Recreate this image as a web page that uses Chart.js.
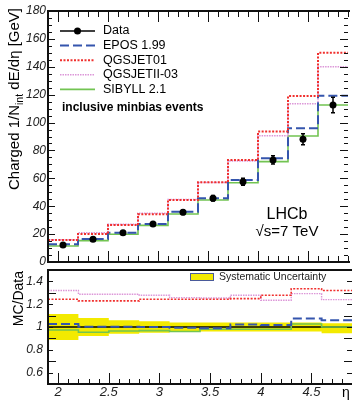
<!DOCTYPE html>
<html>
<head>
<meta charset="utf-8">
<script src="https://cdn.jsdelivr.net/npm/chart.js@4.4.0/dist/chart.umd.min.js"></script>
<style>
  body { margin: 0; background: #fff; }
  #wrap { position: relative; width: 352px; height: 402px; overflow: hidden; }
  #top { position: absolute; left: 0; top: 0; }
  #ratio { position: absolute; left: 0; top: 266px; }
</style>
</head>
<body>
<div id="wrap">
  <canvas id="top" width="352" height="272"></canvas>
  <canvas id="ratio" width="352" height="136"></canvas>
</div>
<script>
// eta bins
const binEdges = [1.9, 2.2, 2.5, 2.8, 3.1, 3.4, 3.7, 4.0, 4.3, 4.6, 4.9];
const binCentres = [2.05, 2.35, 2.65, 2.95, 3.25, 3.55, 3.85, 4.15, 4.45, 4.75];

// energy flow [GeV]
const dataVals = [12.2, 16.3, 21.0, 27.3, 35.6, 45.7, 57.6, 73.2, 88.0, 112.6];
const dataErr = [0.8, 0.9, 1.0, 1.3, 1.6, 2.0, 2.5, 3.0, 4.0, 5.5];
const eposVals = [12.7, 16.5, 21.0, 27.3, 36.1, 45.7, 58.8, 74.4, 95.9, 119.3];
const qgs01Vals = [15.8, 20.1, 26.5, 34.2, 44.5, 57.2, 73.2, 93.5, 119.0, 150.0];
const qgs2Vals = [16.0, 21.0, 27.0, 35.0, 44.8, 57.0, 72.5, 90.5, 113.5, 140.0];
const sibVals = [11.5, 15.3, 19.9, 26.3, 34.4, 44.5, 56.8, 72.0, 90.4, 112.6];

// MC / data
const eposRatio = [1.026, 1.003, 1.003, 1.0, 0.993, 0.99, 1.023, 1.017, 1.075, 1.06];
const qgs01Ratio = [1.243, 1.229, 1.229, 1.243, 1.243, 1.243, 1.249, 1.278, 1.336, 1.32];
const qgs2Ratio = [1.32, 1.287, 1.287, 1.278, 1.258, 1.255, 1.278, 1.235, 1.293, 1.24];
const sibRatio = [0.974, 0.954, 0.965, 0.968, 0.96, 0.98, 0.98, 0.98, 1.026, 1.0];
const sysUp = [1.113, 1.08, 1.06, 1.05, 1.04, 1.04, 1.04, 1.04, 1.04, 1.032];
const sysLo = [0.887, 0.92, 0.94, 0.95, 0.96, 0.96, 0.96, 0.96, 0.96, 0.945];
const refLine = 1;

// axis ticks
const xTicks = [2, 2.5, 3, 3.5, 4, 4.5];
const yTicksTop = [0, 20, 40, 60, 80, 100, 120, 140, 160, 180];
const yTicksRatio = [0.6, 0.8, 1, 1.2, 1.4];

const FONT = "'Liberation Sans', Arial, Helvetica, sans-serif";
const BLUE = "#3555ad";
const RED = "#f0302e";
const PINK = "#dc96d8";
const GREEN = "#72c452";
const YELLOW = "#f3ea00";

// histogram drawn as a stepped line through the bin edges
function steps(vals) {
  return binEdges.map((e, i) => ({ x: e, y: vals[Math.min(i, vals.length - 1)] }));
}

function range(from, to, step) {
  const out = [];
  for (let v = from; v <= to + 1e-9; v += step) out.push(Math.round(v * 1000) / 1000);
  return out;
}

// ROOT-like frame with inward ticks
const framePlugin = {
  id: "frame",
  afterDraw(chart, args, o) {
    const { ctx, chartArea: a } = chart;
    const xs = chart.scales.x, ys = chart.scales.y;
    ctx.save();
    ctx.strokeStyle = "#111";
    ctx.lineWidth = 1;
    ctx.beginPath();
    const xt = (vals, len) => vals.forEach(v => {
      const px = Math.round(xs.getPixelForValue(v)) + 0.5;
      if (o.bottom) { ctx.moveTo(px, a.bottom); ctx.lineTo(px, a.bottom - len); }
      if (o.top) { ctx.moveTo(px, a.top); ctx.lineTo(px, a.top + len); }
    });
    const yt = (vals, len, rlen) => vals.forEach(v => {
      const py = Math.round(ys.getPixelForValue(v)) + 0.5;
      ctx.moveTo(a.left, py); ctx.lineTo(a.left + len, py);
      ctx.moveTo(a.right, py); ctx.lineTo(a.right - rlen, py);
    });
    xt(range(1.9, 4.9, 0.1), o.xMinor);
    xt(xTicks, o.xMajor);
    yt(range(ys.min, ys.max, o.yMinorStep), o.yMinor, o.yMinor);
    yt(range(ys.min, ys.max, o.yMajorStep), o.yMajor, o.yMajorR);
    ctx.stroke();
    // right edge of the frame falls just outside the picture
    ctx.lineWidth = 2;
    ctx.beginPath();
    ctx.moveTo(a.right + 2, a.top); ctx.lineTo(a.left, a.top);
    ctx.lineTo(a.left, a.bottom); ctx.lineTo(a.right + 2, a.bottom);
    ctx.stroke();
    ctx.restore();
  }
};

const errorBars = {
  id: "errorBars",
  afterDatasetsDraw(chart) {
    const { ctx } = chart;
    const xs = chart.scales.x, ys = chart.scales.y;
    ctx.save();
    ctx.strokeStyle = "#000";
    ctx.lineWidth = 1.5;
    binCentres.forEach((x, i) => {
      const px = xs.getPixelForValue(x);
      const y1 = ys.getPixelForValue(dataVals[i] + dataErr[i]);
      const y2 = ys.getPixelForValue(dataVals[i] - dataErr[i]);
      ctx.beginPath();
      ctx.moveTo(px, y1); ctx.lineTo(px, y2);
      ctx.moveTo(px - 2, y1); ctx.lineTo(px + 2, y1);
      ctx.moveTo(px - 2, y2); ctx.lineTo(px + 2, y2);
      ctx.stroke();
    });
    ctx.restore();
  }
};

const topTexts = {
  id: "topTexts",
  afterDraw(chart) {
    const { ctx, chartArea: a } = chart;
    ctx.save();
    ctx.fillStyle = "#000";
    ctx.textBaseline = "middle";

    // legend
    const x0 = a.left + 12, x1 = a.left + 47, tx = a.left + 55;
    chart.data.datasets.forEach((ds, i) => {
      const y = a.top + 20 + i * 14.6;
      ctx.save();
      ctx.strokeStyle = i === 0 ? "#000" : ds.borderColor;
      ctx.lineWidth = i === 0 ? 1.5 : ds.borderWidth;
      ctx.setLineDash(ds.borderDash || []);
      ctx.beginPath(); ctx.moveTo(x0, y); ctx.lineTo(x1, y); ctx.stroke();
      ctx.restore();
      if (i === 0) {
        ctx.beginPath(); ctx.arc((x0 + x1) / 2, y, 3.5, 0, Math.PI * 2); ctx.fill();
      }
      ctx.font = "12.5px " + FONT;
      ctx.textAlign = "left";
      ctx.fillText(ds.label, tx, y);
    });
    ctx.font = "bold 12px " + FONT;
    ctx.fillText("inclusive minbias events", a.left + 14, a.top + 97);

    // experiment tag
    ctx.textAlign = "center";
    ctx.font = "16px " + FONT;
    ctx.fillText("LHCb", 287, 215);
    ctx.font = "15px " + FONT;
    ctx.fillText("\u221As=7 TeV", 287, 232);

    // y title with subscript
    ctx.translate(19, 8);
    ctx.rotate(-Math.PI / 2);
    ctx.textBaseline = "alphabetic";
    ctx.textAlign = "left";
    const big = "15px " + FONT, small = "10.5px " + FONT;
    const p1 = "Charged 1/N", p2 = "int", p3 = " dE/d\u03B7 [GeV]";
    ctx.font = big; const w1 = ctx.measureText(p1).width, w3 = ctx.measureText(p3).width;
    ctx.font = small; const w2 = ctx.measureText(p2).width;
    const start = -(w1 + w2 + w3);
    ctx.font = big; ctx.fillText(p1, start, 0);
    ctx.font = small; ctx.fillText(p2, start + w1, 4);
    ctx.font = big; ctx.fillText(p3, start + w1 + w2, 0);
    ctx.restore();
  }
};

const ratioTexts = {
  id: "ratioTexts",
  afterDraw(chart) {
    const { ctx, chartArea: a } = chart;
    ctx.save();
    // band legend
    ctx.fillStyle = YELLOW;
    ctx.fillRect(190, a.top + 3, 24, 8);
    ctx.strokeStyle = "#4a5a9a";
    ctx.lineWidth = 1;
    ctx.strokeRect(190.5, a.top + 3.5, 23, 7);
    ctx.fillStyle = "#222";
    ctx.font = "10.5px " + FONT;
    ctx.textBaseline = "middle";
    ctx.textAlign = "left";
    ctx.fillText("Systematic Uncertainty", 219, a.top + 7);

    // x title
    ctx.fillStyle = "#000";
    ctx.font = "14px " + FONT;
    ctx.textAlign = "center";
    ctx.fillText("\u03B7", a.right - 6, a.bottom + 9);

    // y title
    ctx.translate(23, a.top + 1);
    ctx.rotate(-Math.PI / 2);
    ctx.textAlign = "right";
    ctx.textBaseline = "alphabetic";
    ctx.fillText("MC/Data", 0, 0);
    ctx.restore();
  }
};

function yAxis(min, max, ticks, pad, width) {
  return {
    min, max,
    afterFit(s) { s.width = width; s.paddingTop = 0; s.paddingBottom = 0; },
    afterBuildTicks(s) { s.ticks = ticks.map(v => ({ value: v })); },
    grid: { display: false, drawTicks: false },
    border: { display: false },
    ticks: { padding: pad, color: "#222", font: { family: FONT, size: 12, style: "italic" }, callback: v => String(v) }
  };
}

const hist = (label, vals, color, width, dash, order) => ({
  label, data: steps(vals), stepped: "before", borderColor: color, borderWidth: width,
  borderDash: dash, pointRadius: 0, fill: false, order
});

new Chart(document.getElementById("top"), {
  type: "line",
  data: {
    datasets: [
      { label: "Data", data: binCentres.map((x, i) => ({ x, y: dataVals[i] })), showLine: false,
        pointRadius: 3.5, pointBackgroundColor: "#000", pointBorderWidth: 0, order: 0 },
      hist("EPOS 1.99", eposVals, BLUE, 2, [9, 4], 2),
      hist("QGSJET01", qgs01Vals, RED, 2, [2, 1.5], 1),
      hist("QGSJETII-03", qgs2Vals, PINK, 1.6, [1.5, 1], 3),
      hist("SIBYLL 2.1", sibVals, GREEN, 1.6, [], 4)
    ]
  },
  options: {
    responsive: false,
    animation: false,
    layout: { padding: { top: 11, right: 0, bottom: 10, left: 0 } },
    plugins: {
      legend: { display: false },
      tooltip: { enabled: false },
      frame: { top: true, bottom: true, xMajor: 11, xMinor: 6, yMajor: 7, yMajorR: 8, yMinor: 4, yMajorStep: 20, yMinorStep: 5 }
    },
    scales: {
      x: { type: "linear", min: 1.9, max: 4.9, display: false },
      y: yAxis(0, 180, yTicksTop, 2, 48)
    }
  },
  plugins: [framePlugin, errorBars, topTexts]
});

new Chart(document.getElementById("ratio"), {
  type: "line",
  data: {
    datasets: [
      hist("EPOS 1.99", eposRatio, BLUE, 2, [9, 4], 2),
      hist("QGSJET01", qgs01Ratio, RED, 1.6, [2, 1.5], 1),
      hist("QGSJETII-03", qgs2Ratio, PINK, 1.4, [1.5, 1], 3),
      hist("SIBYLL 2.1", sibRatio, GREEN, 1.6, [], 4),
      { label: "ref", data: [{ x: 1.9, y: refLine }, { x: 4.9, y: refLine }], borderColor: "#000",
        borderWidth: 1.5, pointRadius: 0, order: 5 },
      { label: "sysUp", data: steps(sysUp), stepped: "before", borderWidth: 0, pointRadius: 0,
        backgroundColor: YELLOW, fill: "+1", order: 10 },
      { label: "sysLo", data: steps(sysLo), stepped: "before", borderWidth: 0, pointRadius: 0,
        fill: false, order: 11 }
    ]
  },
  options: {
    responsive: false,
    animation: false,
    layout: { padding: { top: 4, right: 0, bottom: 0, left: 0 } },
    plugins: {
      legend: { display: false },
      tooltip: { enabled: false },
      frame: { top: false, bottom: true, xMajor: 11, xMinor: 5, yMajor: 8, yMajorR: 8, yMinor: 5, yMajorStep: 0.2, yMinorStep: 0.1 }
    },
    scales: {
      x: {
        type: "linear", min: 1.9, max: 4.9,
        afterFit(s) { s.height = 18; },
        afterBuildTicks(s) { s.ticks = xTicks.map(v => ({ value: v })); },
        grid: { display: false, drawTicks: false },
        border: { display: false },
        ticks: { padding: 1, maxRotation: 0, color: "#222", font: { family: FONT, size: 13, style: "italic" }, callback: v => String(v) }
      },
      y: yAxis(0.5, 1.5, yTicksRatio, 5, 48)
    }
  },
  plugins: [framePlugin, ratioTexts]
});
</script>
</body>
</html>
